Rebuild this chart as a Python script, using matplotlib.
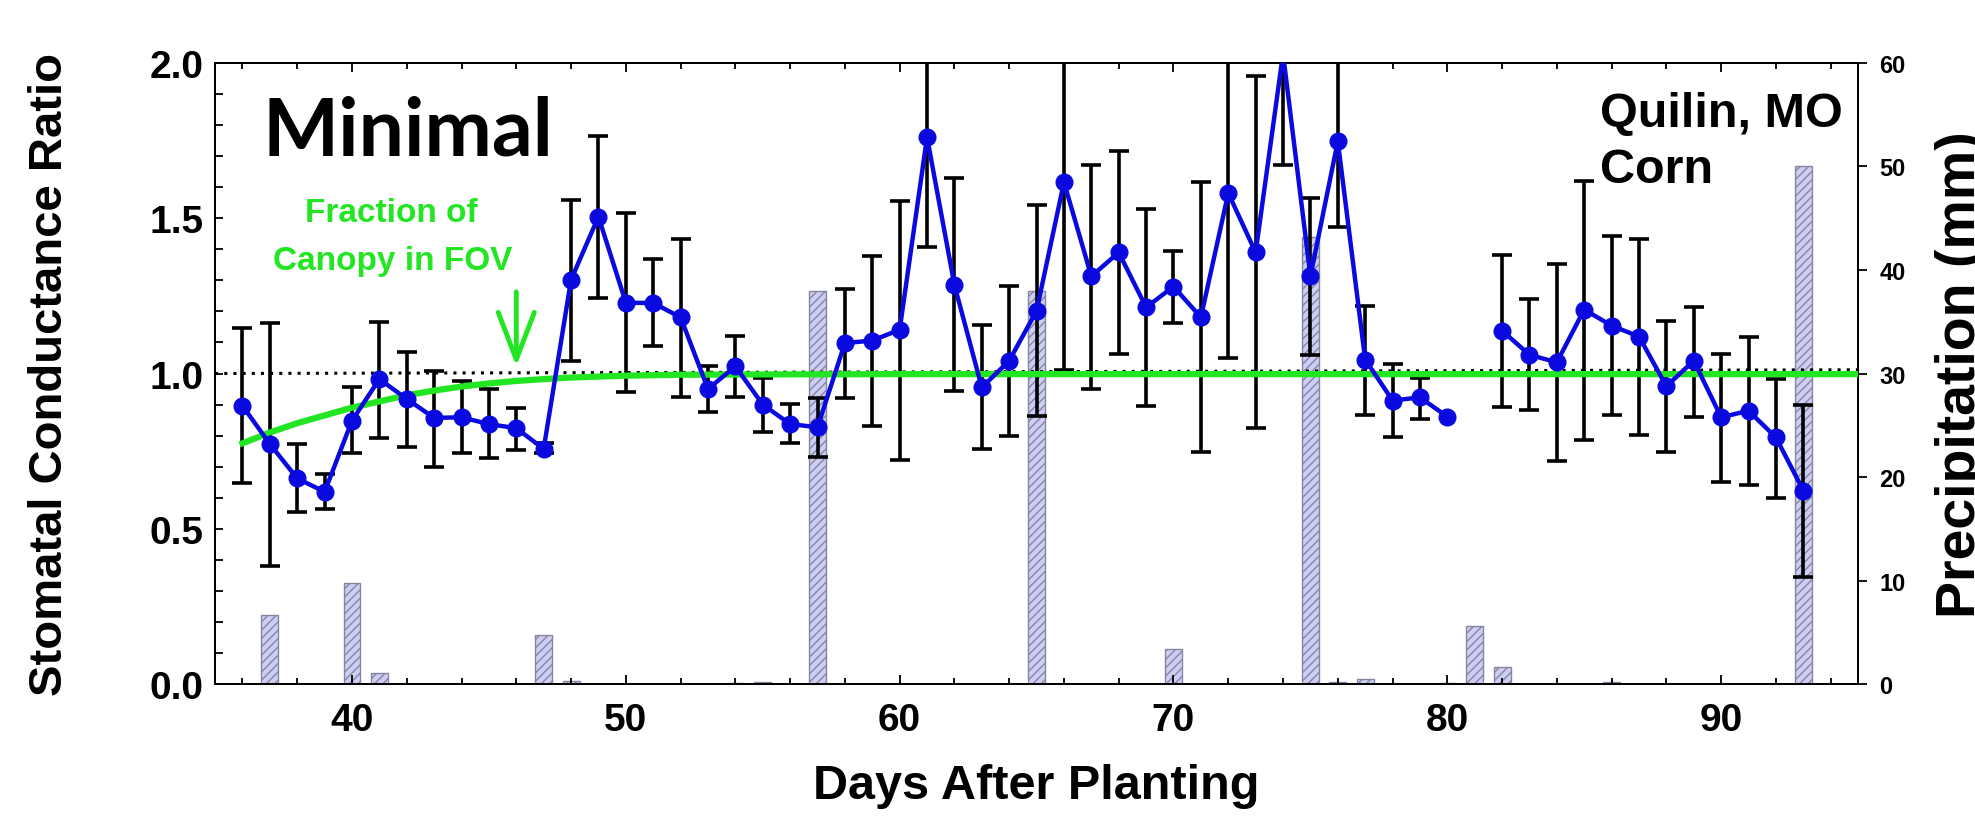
import numpy as np
import matplotlib.pyplot as plt
from matplotlib.ticker import MultipleLocator

plt.rcParams['font.family'] = ['Liberation Sans', 'DejaVu Sans']
plt.rcParams['font.weight'] = 'bold'
plt.rcParams['hatch.linewidth'] = 1.0

# stomatal conductance ratio per day (nan = no data)
days = np.arange(36, 94)
ratio = [0.896, 0.773, 0.662, 0.619, 0.848, 0.982, 0.918, 0.857, 0.859, 0.837,
         0.824, 0.757, 1.302, 1.505, 1.228, 1.227, 1.181, 0.950, 1.023, 0.900,
         0.837, 0.827, 1.098, 1.106, 1.141, 1.761, 1.285, 0.955, 1.041, 1.202,
         1.616, 1.313, 1.390, 1.213, 1.280, 1.181, 1.581, 1.390, 2.030, 1.313,
         1.748, 1.045, 0.913, 0.923, 0.861, np.nan, 1.138, 1.060, 1.036, 1.206,
         1.154, 1.119, 0.959, 1.041, 0.859, 0.880, 0.794, 0.623]
err_lo = [0.647, 0.381, 0.555, 0.564, 0.743, 0.792, 0.764, 0.700, 0.743, 0.727,
          0.755, 0.743, 1.041, 1.243, 0.939, 1.090, 0.923, 0.877, 0.923, 0.813,
          0.775, 0.732, 0.920, 0.832, 0.722, 1.406, 0.943, 0.757, 0.800, 0.864,
          1.010, 0.950, 1.063, 0.894, 1.162, 0.746, 1.050, 0.823, 1.672, 1.060,
          1.473, 0.866, 0.797, 0.853, np.nan, np.nan, 0.891, 0.884, 0.718, 0.787,
          0.866, 0.803, 0.746, 0.859, 0.652, 0.641, 0.598, 0.344]
err_hi = [1.145, 1.162, 0.773, 0.676, 0.955, 1.167, 1.068, 1.009, 0.977, 0.950,
          0.889, 0.776, 1.559, 1.766, 1.518, 1.368, 1.433, 1.023, 1.122, 0.984,
          0.902, 0.920, 1.272, 1.380, 1.554, 2.300, 1.629, 1.156, 1.281, 1.544,
          2.300, 1.672, 1.718, 1.530, 1.393, 1.616, 2.300, 1.957, 2.400, 1.565,
          2.200, 1.216, 1.031, 0.984, np.nan, np.nan, 1.383, 1.240, 1.353, 1.621,
          1.444, 1.433, 1.170, 1.215, 1.063, 1.119, 0.982, 0.899]

# fraction of canopy in field of view
canopy_days = [36, 37, 38, 39, 40, 41, 42, 43, 44, 45, 46, 47, 48, 49, 50, 52, 55, 60, 70, 80, 95]
canopy_frac = [0.775, 0.81, 0.84, 0.865, 0.89, 0.91, 0.93, 0.945, 0.958, 0.968, 0.976,
               0.982, 0.987, 0.99, 0.993, 0.996, 0.997, 0.998, 0.998, 0.998, 0.998]

# precipitation (mm)
rain_days = [37, 40, 41, 47, 48, 54, 55, 57, 65, 70, 75, 76, 77, 80, 81, 82, 86, 93]
rain_mm = [6.7, 9.8, 1.1, 4.7, 0.3, 0.1, 0.15, 38, 38, 3.4, 43.2, 0.2, 0.5, 0.1, 5.6, 1.6, 0.2, 50]

ref_x = [35, 95]
ref_y = [1.0, 1.012]

ratio = np.array(ratio)
yerr = [ratio - np.array(err_lo), np.array(err_hi) - ratio]

fig = plt.figure(figsize=(19.75, 8.29), dpi=100)
ax = fig.add_axes([0.1089, 0.1737, 0.8319, 0.7491])
ax2 = ax.twinx()
ax.set_zorder(ax2.get_zorder() + 1)
ax.patch.set_visible(False)

green = '#22e622'
ax2.bar(rain_days, rain_mm, width=0.62, color='#cdcdf5', edgecolor='#8686a0',
        hatch='////', linewidth=1)
ax2.set_ylim(0, 60)
ax2.yaxis.set_major_locator(MultipleLocator(10))
ax2.tick_params(axis='y', direction='out', length=6.5, width=1.3, labelsize=17, pad=9)
ax2.set_ylabel('Precipitation (mm)', fontsize=40, fontweight='bold')
ax2.yaxis.set_label_coords(1.047, 0.5)

ax.plot(ref_x, ref_y, color='black', linestyle=(0, (1, 2)), linewidth=2.2, zorder=2)
ax.errorbar(days, ratio, yerr=yerr, fmt='none', ecolor='black', elinewidth=2.6,
            capsize=7.5, capthick=2.6, zorder=3)
ax.plot(canopy_days, canopy_frac, color=green, linewidth=4.5, zorder=4)
ax.plot(days, ratio, color='#0a0ae0', linewidth=3.2, marker='o', markersize=12, zorder=5)

ax.annotate('', xy=(46.0, 1.014), xytext=(46.0, 1.272),
            arrowprops=dict(arrowstyle='->,head_length=3.4,head_width=1.3',
                            mutation_scale=10, color=green, lw=3.5))

ax.set_xlim(35, 95)
ax.set_ylim(0, 2.0)
ax.xaxis.set_major_locator(MultipleLocator(10))
ax.xaxis.set_minor_locator(MultipleLocator(2))
ax.yaxis.set_major_locator(MultipleLocator(0.5))
ax.yaxis.set_minor_locator(MultipleLocator(0.1))
ax.yaxis.set_major_formatter(plt.FormatStrFormatter('%.1f'))
ax.tick_params(axis='x', which='both', direction='in', top=True, width=1.3, labelsize=28, pad=13)
ax.tick_params(axis='x', which='major', length=6.5)
ax.tick_params(axis='x', which='minor', length=4.5)
ax.tick_params(axis='y', which='both', direction='in', right=False, length=6, width=1.3,
               labelsize=28, pad=8)
for sp in list(ax.spines.values()) + list(ax2.spines.values()):
    sp.set_linewidth(1.3)

ax.set_xlabel('Days After Planting', fontsize=35, fontweight='bold', labelpad=18)
ax.set_ylabel('Stomatal Conductance Ratio', fontsize=34, fontweight='bold')
ax.yaxis.set_label_coords(-0.087, 0.5)

ax.text(0.0286, 0.853, 'Minimal', transform=ax.transAxes, fontsize=58,
        fontweight='bold', family=['Lato', 'DejaVu Sans'], va='baseline', ha='left')
ax.text(0.107, 0.746, 'Fraction of', transform=ax.transAxes, fontsize=24,
        fontweight='bold', color=green, ha='center', va='baseline')
ax.text(0.108, 0.668, 'Canopy in FOV', transform=ax.transAxes, fontsize=24,
        fontweight='bold', color=green, ha='center', va='baseline')
ax.text(0.843, 0.8985, 'Quilin, MO', transform=ax.transAxes, fontsize=35,
        fontweight='bold', ha='left', va='baseline')
ax.text(0.843, 0.808, 'Corn', transform=ax.transAxes, fontsize=35,
        fontweight='bold', ha='left', va='baseline')

fig.savefig('out.png', dpi=100)
